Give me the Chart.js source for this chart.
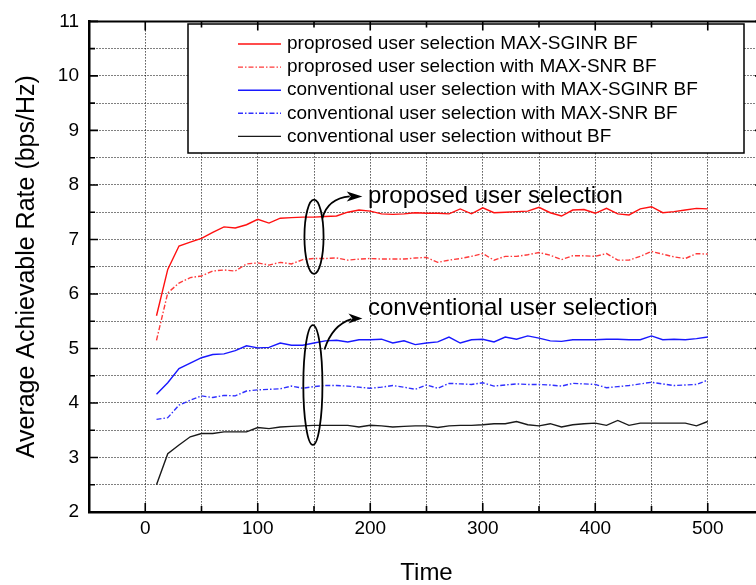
<!DOCTYPE html>
<html>
<head>
<meta charset="utf-8">
<script src="https://cdn.jsdelivr.net/npm/chart.js@4.4.1/dist/chart.umd.min.js"></script>
<style>
  html, body { margin: 0; padding: 0; background: #fff; overflow: hidden; }
  canvas { display: block; }
</style>
</head>
<body>
<canvas id="rate-chart" width="770" height="585"></canvas>
<script>
// time axis (x), 10 .. 500
const time = [10, 20, 30, 40, 50, 60, 70, 80, 90, 100,
  110, 120, 130, 140, 150, 160, 170, 180, 190, 200,
  210, 220, 230, 240, 250, 260, 270, 280, 290, 300,
  310, 320, 330, 340, 350, 360, 370, 380, 390, 400,
  410, 420, 430, 440, 450, 460, 470, 480, 490, 500];

// average achievable rate (bps/Hz)
const propSginr = [5.60, 6.45, 6.88, 6.95, 7.02, 7.13, 7.23, 7.21, 7.27, 7.37,
  7.30, 7.39, 7.40, 7.41, 7.41, 7.42, 7.43, 7.50, 7.54, 7.52,
  7.47, 7.46, 7.47, 7.49, 7.48, 7.48, 7.47, 7.56, 7.47, 7.58,
  7.49, 7.50, 7.51, 7.52, 7.59, 7.49, 7.43, 7.54, 7.55, 7.48,
  7.57, 7.47, 7.45, 7.56, 7.60, 7.49, 7.51, 7.54, 7.57, 7.56];
const propSnr = [5.15, 6.02, 6.20, 6.30, 6.33, 6.42, 6.44, 6.42, 6.55, 6.57,
  6.53, 6.58, 6.55, 6.63, 6.65, 6.65, 6.66, 6.62, 6.64, 6.65,
  6.64, 6.64, 6.64, 6.66, 6.67, 6.58, 6.62, 6.65, 6.69, 6.74,
  6.62, 6.69, 6.69, 6.72, 6.76, 6.71, 6.63, 6.70, 6.70, 6.69,
  6.74, 6.62, 6.62, 6.69, 6.78, 6.73, 6.68, 6.65, 6.74, 6.73];
const convSginr = [4.16, 4.37, 4.63, 4.73, 4.83, 4.89, 4.90, 4.96, 5.05, 5.01,
  5.02, 5.10, 5.06, 5.06, 5.10, 5.14, 5.15, 5.12, 5.16, 5.16,
  5.17, 5.10, 5.14, 5.07, 5.10, 5.12, 5.21, 5.10, 5.16, 5.17,
  5.12, 5.21, 5.17, 5.23, 5.19, 5.14, 5.13, 5.16, 5.16, 5.16,
  5.17, 5.17, 5.16, 5.16, 5.23, 5.16, 5.17, 5.16, 5.18, 5.21];
const convSnr = [3.70, 3.73, 3.96, 4.05, 4.13, 4.10, 4.14, 4.13, 4.22, 4.24,
  4.25, 4.26, 4.31, 4.27, 4.30, 4.32, 4.32, 4.31, 4.29, 4.27,
  4.29, 4.32, 4.29, 4.25, 4.33, 4.27, 4.36, 4.35, 4.34, 4.37,
  4.31, 4.33, 4.35, 4.34, 4.34, 4.33, 4.31, 4.36, 4.35, 4.34,
  4.28, 4.30, 4.32, 4.35, 4.38, 4.35, 4.32, 4.33, 4.34, 4.42];
const convNoBf = [2.50, 3.07, 3.23, 3.38, 3.44, 3.44, 3.47, 3.47, 3.47, 3.55,
  3.53, 3.56, 3.57, 3.58, 3.59, 3.59, 3.59, 3.59, 3.56, 3.59,
  3.58, 3.56, 3.57, 3.58, 3.58, 3.55, 3.58, 3.59, 3.59, 3.60,
  3.62, 3.62, 3.66, 3.60, 3.58, 3.62, 3.56, 3.60, 3.62, 3.63,
  3.59, 3.68, 3.59, 3.63, 3.63, 3.63, 3.63, 3.63, 3.58, 3.66];

const seriesNames = [
  'proprosed user selection MAX-SGINR BF',
  'proprosed user selection with MAX-SNR BF',
  'conventional user selection with MAX-SGINR BF',
  'conventional user selection with MAX-SNR BF',
  'conventional user selection without BF'
];

// callouts: ellipse round the curves at t=150, arrow to a caption
const callouts = [
  { text: 'proposed user selection', at: [150, 7.05], radius: [8.5, 0.68],
    arrow: [[157.5, 7.39], [162, 7.75], [180, 7.79], [193, 7.79]], label: [198, 7.79] },
  { text: 'conventional user selection', at: [149, 4.33], radius: [8.5, 1.1],
    arrow: [[159.3, 4.98], [166, 5.43], [181.5, 5.54], [193, 5.55]], label: [198, 5.74] }
];

const FONT = '"Liberation Sans", Arial, Helvetica, sans-serif';
const dashDot = [5, 2, 1.5, 2];

const styles = [
  { color: '#ff1010', dash: [] },
  { color: '#ff3a3a', dash: dashDot },
  { color: '#1818ff', dash: [] },
  { color: '#3030ff', dash: dashDot },
  { color: '#1a1a1a', dash: [] }
];
const series = [propSginr, propSnr, convSginr, convSnr, convNoBf];

const datasets = series.map((vals, i) => ({
  label: seriesNames[i],
  data: time.map((t, k) => ({ x: t, y: vals[k] })),
  borderColor: styles[i].color,
  borderDash: styles[i].dash,
  borderWidth: 1.4,
  pointRadius: 0,
  tension: 0,
  fill: false
}));

// inward ticks on all four sides plus the top frame line
const frameTicks = {
  id: 'frameTicks',
  afterDraw(chart) {
    const { ctx, chartArea: a, scales: { x, y } } = chart;
    ctx.save();
    ctx.strokeStyle = '#000';
    ctx.lineWidth = 2;
    ctx.beginPath();
    ctx.moveTo(a.left, a.top); ctx.lineTo(a.right, a.top); ctx.lineTo(a.right, a.bottom);
    ctx.stroke();
    ctx.lineWidth = 1.6;
    x.ticks.forEach(t => {
      const px = x.getPixelForValue(t.value);
      const len = t.value % 100 === 0 ? 9 : 6;
      ctx.beginPath();
      ctx.moveTo(px, a.bottom); ctx.lineTo(px, a.bottom - len);
      ctx.moveTo(px, a.top); ctx.lineTo(px, a.top + len);
      ctx.stroke();
    });
    y.ticks.forEach(t => {
      const py = y.getPixelForValue(t.value);
      const len = Number.isInteger(t.value) ? 9 : 6;
      ctx.beginPath();
      ctx.moveTo(a.left, py); ctx.lineTo(a.left + len, py);
      ctx.moveTo(a.right, py); ctx.lineTo(a.right - len, py);
      ctx.stroke();
    });
    ctx.restore();
  }
};

// boxed legend inside the plot
const boxLegend = {
  id: 'boxLegend',
  afterDatasetsDraw(chart, args, opts) {
    const { ctx } = chart;
    const b = opts.box;
    ctx.save();
    ctx.fillStyle = '#fff';
    ctx.fillRect(b.x, b.y, b.w, b.h);
    ctx.strokeStyle = '#000';
    ctx.lineWidth = 1.5;
    ctx.strokeRect(b.x, b.y, b.w, b.h);
    ctx.font = opts.fontSize + 'px ' + FONT;
    ctx.textBaseline = 'middle';
    ctx.fillStyle = '#000';
    chart.data.datasets.forEach((ds, i) => {
      const cy = b.y + opts.firstRow + i * opts.rowGap;
      ctx.strokeStyle = ds.borderColor;
      ctx.lineWidth = ds.borderWidth;
      ctx.setLineDash(ds.borderDash);
      ctx.beginPath();
      ctx.moveTo(opts.lineX0, cy); ctx.lineTo(opts.lineX1, cy);
      ctx.stroke();
      ctx.setLineDash([]);
      ctx.fillText(ds.label, opts.textX, cy);
    });
    ctx.restore();
  }
};

// ellipses, curved arrows and captions
const calloutPlugin = {
  id: 'callouts',
  afterDatasetsDraw(chart) {
    const { ctx, scales: { x, y } } = chart;
    const P = p => [x.getPixelForValue(p[0]), y.getPixelForValue(p[1])];
    ctx.save();
    ctx.strokeStyle = '#000';
    ctx.fillStyle = '#000';
    ctx.lineWidth = 1.8;
    callouts.forEach(c => {
      const [cx, cy] = P(c.at);
      const rx = Math.abs(x.getPixelForValue(c.at[0] + c.radius[0]) - cx);
      const ry = Math.abs(y.getPixelForValue(c.at[1] + c.radius[1]) - cy);
      ctx.beginPath();
      ctx.ellipse(cx, cy, rx, ry, 0, 0, Math.PI * 2);
      ctx.stroke();
      const [s, k, e, tip] = c.arrow.map(P);
      ctx.beginPath();
      ctx.moveTo(s[0], s[1]);
      ctx.quadraticCurveTo(k[0], k[1], e[0] + 2, e[1]);
      ctx.stroke();
      ctx.beginPath();
      ctx.moveTo(tip[0], tip[1]);
      ctx.lineTo(e[0] - 1, tip[1] - 5);
      ctx.lineTo(e[0] + 3, tip[1]);
      ctx.lineTo(e[0] - 1, tip[1] + 5);
      ctx.closePath();
      ctx.fill();
      const [lx, ly] = P(c.label);
      ctx.font = '24px ' + FONT;
      ctx.textBaseline = 'middle';
      ctx.fillText(c.text, lx, ly);
    });
    ctx.restore();
  }
};

new Chart(document.getElementById('rate-chart').getContext('2d'), {
  type: 'line',
  data: { datasets },
  options: {
    responsive: false,
    animation: false,
    devicePixelRatio: 1,
    layout: { padding: { top: 13, right: 6, left: 0, bottom: 0 } },
    plugins: {
      legend: { display: false },
      tooltip: { enabled: false },
      boxLegend: {
        box: { x: 188, y: 24, w: 556, h: 129 },
        firstRow: 20, rowGap: 23.1,
        lineX0: 238, lineX1: 281, textX: 287, fontSize: 19
      }
    },
    scales: {
      x: {
        type: 'linear',
        min: -50, max: 550,
        afterFit: s => { s.height = 73; },
        ticks: {
          stepSize: 50, autoSkip: false, maxRotation: 0, padding: 5,
          color: '#000', font: { family: FONT, size: 19 },
          callback: v => (v % 100 === 0 ? String(v) : '')
        },
        grid: { color: '#000', lineWidth: 1, drawTicks: false },
        border: { display: true, color: '#000', width: 2.5, dash: [1, 2] },
        title: {
          display: true, text: 'Time', color: '#000',
          font: { family: FONT, size: 24, lineHeight: 1 }, padding: { top: 1, bottom: 0 }
        }
      },
      y: {
        min: 2, max: 11,
        afterFit: s => { s.width = 89; },
        ticks: {
          stepSize: 0.5, autoSkip: false, padding: 10,
          color: '#000', font: { family: FONT, size: 19 },
          callback: v => (Number.isInteger(v) ? String(v) : '')
        },
        grid: { color: '#000', lineWidth: 1, drawTicks: false },
        border: { display: true, color: '#000', width: 2.5, dash: [1, 2] },
        title: {
          display: true, text: 'Average Achievable Rate (bps/Hz)', color: '#000',
          font: { family: FONT, size: 25, lineHeight: 1 }, padding: { top: 15, bottom: 0 }
        }
      }
    }
  },
  plugins: [boxLegend, calloutPlugin, frameTicks]
});
</script>
</body>
</html>
